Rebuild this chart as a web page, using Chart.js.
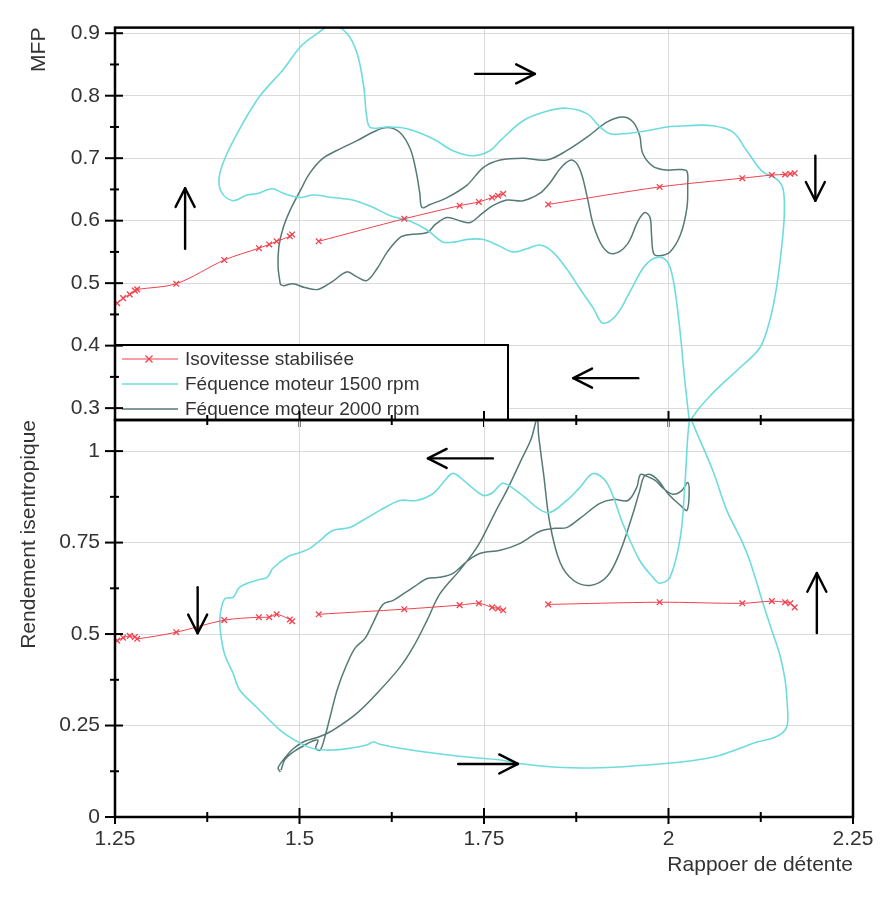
<!DOCTYPE html>
<html lang="fr">
<head>
<meta charset="utf-8">
<title>MFP et rendement isentropique</title>
<script src="https://cdn.jsdelivr.net/npm/chart.js@4.4.1/dist/chart.umd.min.js"></script>
<style>
html,body{margin:0;padding:0;background:#ffffff;overflow:hidden;}
#wrap{position:relative;width:892px;height:902px;background:#fff;}
#wrap canvas{position:absolute;left:0;top:0;}
</style>
</head>
<body>
<div id="wrap">
<canvas id="cTop" width="892" height="902"></canvas>
<canvas id="cBottom" width="892" height="902"></canvas>
</div>
<script>
// ---------- tick labels / texts ----------
const xMajorTicks = [1.25, 1.5, 1.75, 2, 2.25];
const xMinorTicks = [1.375, 1.625, 1.875, 2.125];
const mfpMajorTicks = [0.3, 0.4, 0.5, 0.6, 0.7, 0.8, 0.9];
const mfpMinorTicks = [0.35, 0.45, 0.55, 0.65, 0.75, 0.85];
const rendMajorTicks = [0, 0.25, 0.5, 0.75, 1];
const rendMinorTicks = [0.125, 0.375, 0.625, 0.875];
const seriesNames = ['Isovitesse stabilisée', 'Féquence moteur 1500 rpm', 'Féquence moteur 2000 rpm'];
const xTitle = 'Rappoer de détente';
const mfpTitle = 'MFP';
const rendTitle = 'Rendement isentropique';

// ---------- Isovitesse stabilisée (null = gap between segments) ----------
const isoX    = [1.253,1.261,1.270,1.277,1.280,1.333,1.398,1.445,1.459,1.469,1.487,1.490, 1.510, 1.526,1.642,1.717,1.743,1.761,1.769,1.776, 1.805, 1.837,1.988,2.100,2.140,2.158,2.165,2.171];
const isoMFP  = [0.468,0.476,0.482,0.488,0.490,0.499,0.537,0.556,0.562,0.567,0.575,0.578, null, 0.567,0.603,0.624,0.630,0.637,0.640,0.643, null, 0.626,0.654,0.668,0.673,0.674,0.675,0.676];
const isoRend = [0.482,0.490,0.495,0.492,0.487,0.505,0.538,0.546,0.546,0.554,0.540,0.535, null, 0.554,0.568,0.579,0.584,0.573,0.570,0.565, null, 0.581,0.587,0.584,0.590,0.587,0.584,0.573];

// ---------- 1500 rpm cycle, MFP ----------
const f1500MFP = [[2.029,0.262],[2.033,0.286],[2.060,0.324],[2.097,0.365],[2.124,0.397],[2.138,0.444],[2.147,0.498],[2.155,0.577],[2.157,0.618],[2.155,0.652],[2.146,0.667],[2.127,0.679],[2.106,0.712],[2.087,0.742],[2.060,0.752],[2.025,0.752],[1.998,0.750],[1.971,0.744],[1.938,0.739],[1.921,0.739],[1.907,0.750],[1.890,0.771],[1.862,0.780],[1.835,0.775],[1.803,0.760],[1.772,0.728],[1.758,0.712],[1.735,0.704],[1.708,0.712],[1.681,0.731],[1.646,0.747],[1.619,0.750],[1.596,0.749],[1.591,0.767],[1.587,0.815],[1.578,0.868],[1.564,0.900],[1.544,0.913],[1.521,0.897],[1.501,0.878],[1.478,0.842],[1.446,0.799],[1.419,0.747],[1.399,0.700],[1.391,0.668],[1.395,0.644],[1.410,0.632],[1.429,0.641],[1.442,0.643],[1.463,0.651],[1.478,0.644],[1.501,0.637],[1.518,0.641],[1.545,0.637],[1.572,0.633],[1.600,0.621],[1.623,0.608],[1.650,0.599],[1.673,0.585],[1.694,0.566],[1.711,0.566],[1.727,0.570],[1.749,0.570],[1.768,0.561],[1.789,0.550],[1.808,0.555],[1.826,0.561],[1.843,0.550],[1.862,0.523],[1.880,0.491],[1.898,0.460],[1.911,0.436],[1.930,0.450],[1.948,0.487],[1.965,0.523],[1.979,0.539],[1.993,0.540],[2.002,0.526],[2.009,0.487],[2.016,0.419],[2.022,0.345],[2.028,0.281],[2.030,0.255]];

// ---------- 2000 rpm cycle, MFP ----------
const f2000MFP = [[1.474,0.498],[1.471,0.526],[1.472,0.558],[1.478,0.589],[1.487,0.616],[1.501,0.648],[1.514,0.676],[1.532,0.700],[1.555,0.715],[1.578,0.728],[1.600,0.742],[1.619,0.749],[1.636,0.741],[1.650,0.715],[1.658,0.679],[1.663,0.644],[1.666,0.621],[1.677,0.626],[1.700,0.637],[1.727,0.657],[1.749,0.685],[1.772,0.697],[1.803,0.700],[1.835,0.697],[1.862,0.712],[1.890,0.734],[1.917,0.758],[1.938,0.766],[1.952,0.758],[1.961,0.736],[1.965,0.708],[1.979,0.687],[1.998,0.681],[2.016,0.682],[2.025,0.679],[2.026,0.657],[2.025,0.621],[2.016,0.577],[2.002,0.550],[1.988,0.544],[1.980,0.547],[1.977,0.577],[1.975,0.605],[1.968,0.613],[1.959,0.600],[1.944,0.562],[1.925,0.547],[1.911,0.558],[1.898,0.594],[1.890,0.637],[1.880,0.682],[1.869,0.697],[1.856,0.687],[1.839,0.660],[1.826,0.644],[1.803,0.632],[1.781,0.633],[1.762,0.624],[1.749,0.613],[1.731,0.597],[1.717,0.600],[1.700,0.605],[1.684,0.594],[1.673,0.581],[1.650,0.578],[1.636,0.573],[1.619,0.550],[1.605,0.523],[1.591,0.504],[1.578,0.510],[1.564,0.518],[1.545,0.503],[1.525,0.490],[1.507,0.493],[1.491,0.499],[1.478,0.496],[1.474,0.498]];

// ---------- 1500 rpm cycle, rendement ----------
const f1500Rend = [[2.029,1.097],[2.033,1.075],[2.060,0.947],[2.079,0.838],[2.097,0.764],[2.110,0.701],[2.128,0.584],[2.140,0.510],[2.151,0.442],[2.158,0.374],[2.161,0.306],[2.161,0.251],[2.154,0.229],[2.142,0.216],[2.120,0.205],[2.097,0.188],[2.070,0.169],[2.029,0.153],[1.988,0.145],[1.925,0.136],[1.894,0.134],[1.849,0.136],[1.803,0.145],[1.772,0.156],[1.727,0.164],[1.681,0.175],[1.636,0.188],[1.609,0.199],[1.600,0.205],[1.591,0.197],[1.568,0.188],[1.545,0.183],[1.521,0.186],[1.501,0.202],[1.474,0.237],[1.442,0.300],[1.419,0.347],[1.410,0.393],[1.399,0.442],[1.394,0.489],[1.392,0.538],[1.395,0.579],[1.400,0.598],[1.410,0.600],[1.419,0.628],[1.442,0.647],[1.456,0.655],[1.464,0.680],[1.483,0.710],[1.501,0.723],[1.514,0.734],[1.528,0.756],[1.545,0.783],[1.568,0.791],[1.586,0.811],[1.609,0.838],[1.636,0.865],[1.659,0.865],[1.681,0.884],[1.694,0.912],[1.708,0.939],[1.727,0.912],[1.749,0.879],[1.762,0.887],[1.776,0.912],[1.799,0.884],[1.835,0.832],[1.862,0.865],[1.880,0.901],[1.898,0.939],[1.917,0.912],[1.938,0.802],[1.961,0.701],[1.979,0.655],[1.988,0.639],[2.002,0.655],[2.016,0.764],[2.022,0.901],[2.026,1.037],[2.029,1.097]];

// ---------- 2000 rpm cycle, rendement ----------
const f2000Rend = [[1.475,0.128],[1.480,0.156],[1.491,0.177],[1.505,0.194],[1.517,0.207],[1.525,0.210],[1.522,0.188],[1.528,0.183],[1.534,0.216],[1.541,0.270],[1.551,0.347],[1.562,0.407],[1.575,0.461],[1.589,0.489],[1.600,0.532],[1.613,0.581],[1.627,0.592],[1.640,0.609],[1.656,0.630],[1.673,0.652],[1.690,0.655],[1.708,0.666],[1.727,0.699],[1.745,0.721],[1.772,0.729],[1.799,0.748],[1.826,0.781],[1.846,0.789],[1.862,0.791],[1.880,0.816],[1.907,0.857],[1.925,0.868],[1.945,0.865],[1.957,0.901],[1.962,0.936],[1.971,0.931],[1.982,0.920],[1.993,0.898],[2.006,0.882],[2.018,0.892],[2.026,0.914],[2.028,0.887],[2.025,0.838],[2.016,0.852],[2.000,0.882],[1.986,0.920],[1.975,0.936],[1.967,0.931],[1.961,0.892],[1.951,0.824],[1.934,0.723],[1.917,0.658],[1.894,0.633],[1.871,0.647],[1.853,0.696],[1.839,0.805],[1.831,0.933],[1.824,1.043],[1.822,1.089],[1.814,1.034],[1.800,0.974],[1.783,0.901],[1.765,0.832],[1.746,0.756],[1.735,0.721],[1.717,0.674],[1.690,0.609],[1.673,0.538],[1.654,0.464],[1.636,0.409],[1.605,0.338],[1.578,0.284],[1.545,0.237],[1.525,0.218],[1.507,0.207],[1.491,0.186],[1.478,0.156],[1.471,0.134],[1.474,0.123]];

// ---------- direction arrows (tail x, tail y, head x, head y) ----------
const arrowsMFP  = [[1.345,0.555,1.345,0.652],[1.738,0.835,1.819,0.835],[2.199,0.704,2.199,0.632],[1.959,0.348,1.871,0.348]];
const arrowsRend = [[1.762,0.980,1.674,0.980],[1.362,0.628,1.362,0.502],[2.201,0.503,2.201,0.667],[1.715,0.145,1.796,0.145]];

// ---------- styling ----------
const FONT = "'Liberation Sans', Arial, Helvetica, sans-serif";
const TXT = '#333333';
const C_RED = '#f2414e', C_CYAN = '#6edcdc', C_DARK = '#557a75', C_GRID = '#dadada';

const xyPoints = (xs, ys) => xs.map((x, i) => ({x: x, y: ys[i]}));
const pairPoints = (pairs) => pairs.map(p => ({x: p[0], y: p[1]}));

function seg(ctx, x0, y0, x1, y1) { ctx.beginPath(); ctx.moveTo(x0, y0); ctx.lineTo(x1, y1); ctx.stroke(); }

function makeFrame(yMajor, yMinor) {
  return {
    id: 'frameTicks',
    afterDraw(chart) {
      const {ctx, chartArea: a, scales} = chart;
      const xs = scales.x, ys = scales.y;
      ctx.save();
      ctx.strokeStyle = '#000'; ctx.lineWidth = 2;
      yMajor.forEach(v => { const p = ys.getPixelForValue(v); seg(ctx, a.left - 10, p, a.left + 8, p); });
      yMinor.forEach(v => { const p = ys.getPixelForValue(v); seg(ctx, a.left - 5, p, a.left + 4, p); });
      xMajorTicks.forEach(v => { const p = xs.getPixelForValue(v); seg(ctx, p, a.bottom - 9, p, a.bottom + 7); });
      xMinorTicks.forEach(v => { const p = xs.getPixelForValue(v); seg(ctx, p, a.bottom - 5, p, a.bottom + 5); });
      ctx.lineWidth = 2.5;
      ctx.strokeRect(a.left, a.top, a.right - a.left, a.bottom - a.top);
      ctx.restore();
    }
  };
}

function makeArrows(list) {
  return {
    id: 'arrows',
    afterDraw(chart) {
      const {ctx, scales} = chart;
      ctx.save();
      ctx.strokeStyle = '#000'; ctx.lineWidth = 2.4; ctx.lineCap = 'round'; ctx.lineJoin = 'round';
      list.forEach(a => {
        const x0 = scales.x.getPixelForValue(a[0]), y0 = scales.y.getPixelForValue(a[1]);
        const x1 = scales.x.getPixelForValue(a[2]), y1 = scales.y.getPixelForValue(a[3]);
        const ang = Math.atan2(y1 - y0, x1 - x0), L = 21, w = 0.47;
        seg(ctx, x0, y0, x1, y1);
        ctx.beginPath();
        ctx.moveTo(x1 - L * Math.cos(ang - w), y1 - L * Math.sin(ang - w));
        ctx.lineTo(x1, y1);
        ctx.lineTo(x1 - L * Math.cos(ang + w), y1 - L * Math.sin(ang + w));
        ctx.stroke();
      });
      ctx.restore();
    }
  };
}

const boxLegend = {
  id: 'boxLegend',
  afterDatasetsDraw(chart) {
    const {ctx, chartArea: a} = chart;
    const bw = 393, bh = 75, bx = a.left, by = a.bottom - bh;
    ctx.save();
    ctx.fillStyle = '#fff'; ctx.fillRect(bx, by, bw, bh);
    ctx.strokeStyle = '#000'; ctx.lineWidth = 2; ctx.strokeRect(bx, by, bw, bh);
    ctx.font = '19px ' + FONT; ctx.textBaseline = 'middle'; ctx.textAlign = 'left';
    chart.data.datasets.forEach((ds, i) => {
      const yy = by + 14 + i * 25;
      ctx.strokeStyle = ds.borderColor; ctx.lineWidth = ds.borderWidth;
      seg(ctx, bx + 7, yy, bx + 63, yy);
      if (ds.pointStyle === 'crossRot') {
        const cx = bx + 34, r = 3.5;
        ctx.lineWidth = 1.3;
        seg(ctx, cx - r, yy - r, cx + r, yy + r);
        seg(ctx, cx - r, yy + r, cx + r, yy - r);
      }
      ctx.fillStyle = TXT;
      ctx.fillText(ds.label, bx + 70, yy + 1);
    });
    ctx.restore();
  }
};

function isoDataset(ys) {
  return {label: seriesNames[0], data: xyPoints(isoX, ys), showLine: true, borderColor: C_RED, backgroundColor: C_RED,
    borderWidth: 1, pointStyle: 'crossRot', pointRadius: 4, pointBorderWidth: 1.3, pointBorderColor: C_RED,
    tension: 0.3, spanGaps: false};
}
function cycleDataset(label, pairs, color, width) {
  return {label: label, data: pairPoints(pairs), showLine: true, borderColor: color, backgroundColor: color,
    borderWidth: width, pointRadius: 0, tension: 0.35};
}

const tickFont = {family: FONT, size: 21};
const titleFont = {family: FONT, size: 21};
const tickLabel = v => String(v);

// ---------- top panel: MFP ----------
new Chart(document.getElementById('cTop'), {
  type: 'scatter',
  data: {datasets: [
    isoDataset(isoMFP),
    cycleDataset(seriesNames[1], f1500MFP, C_CYAN, 1.6),
    cycleDataset(seriesNames[2], f2000MFP, C_DARK, 1.5)
  ]},
  options: {
    responsive: false, animation: false, events: [],
    layout: {padding: {left: 0, top: 22, right: 39, bottom: 470}},
    plugins: {legend: {display: false}, tooltip: {enabled: false}},
    scales: {
      x: {type: 'linear', position: 'bottom', min: 1.25, max: 2.25,
        afterBuildTicks: s => { s.ticks = xMajorTicks.map(v => ({value: v})); },
        afterFit: s => { s.height = 12; },
        ticks: {display: false},
        grid: {color: C_GRID, lineWidth: 1, drawTicks: false},
        border: {display: false}},
      y: {type: 'linear', position: 'left', min: 0.281, max: 0.909,
        afterBuildTicks: s => { s.ticks = mfpMajorTicks.map(v => ({value: v})); },
        afterFit: s => { s.width = 115; },
        ticks: {font: tickFont, color: TXT, padding: 15, callback: tickLabel},
        grid: {color: C_GRID, lineWidth: 1, drawTicks: false},
        border: {display: false},
        title: {display: true, text: mfpTitle, align: 'end', font: titleFont, color: TXT, padding: {top: 27, bottom: 0}}}
    }
  },
  plugins: [boxLegend, makeFrame(mfpMajorTicks, mfpMinorTicks), makeArrows(arrowsMFP)]
});

// ---------- bottom panel: rendement isentropique ----------
new Chart(document.getElementById('cBottom'), {
  type: 'scatter',
  data: {datasets: [
    isoDataset(isoRend),
    cycleDataset(seriesNames[1], f1500Rend, C_CYAN, 1.6),
    cycleDataset(seriesNames[2], f2000Rend, C_DARK, 1.5)
  ]},
  options: {
    responsive: false, animation: false, events: [],
    layout: {padding: {left: 0, top: 420, right: 39, bottom: 20}},
    plugins: {legend: {display: false}, tooltip: {enabled: false}},
    scales: {
      x: {type: 'linear', position: 'bottom', min: 1.25, max: 2.25,
        afterBuildTicks: s => { s.ticks = xMajorTicks.map(v => ({value: v})); },
        afterFit: s => { s.height = 65; },
        ticks: {font: tickFont, color: TXT, padding: 10, maxRotation: 0, callback: tickLabel},
        grid: {color: C_GRID, lineWidth: 1, drawTicks: false},
        border: {display: false},
        title: {display: true, text: xTitle, align: 'end', font: titleFont, color: TXT, padding: {top: 0, bottom: 4}}},
      y: {type: 'linear', position: 'left', min: 0, max: 1.085,
        afterBuildTicks: s => { s.ticks = rendMajorTicks.map(v => ({value: v})); },
        afterFit: s => { s.width = 115; },
        ticks: {font: tickFont, color: TXT, padding: 15, callback: tickLabel},
        grid: {color: C_GRID, lineWidth: 1, drawTicks: false},
        border: {display: false},
        title: {display: true, text: rendTitle, align: 'end', font: titleFont, color: TXT, padding: {top: 17, bottom: 0}}}
    }
  },
  plugins: [makeFrame(rendMajorTicks, rendMinorTicks), makeArrows(arrowsRend)]
});
</script>
</body>
</html>
